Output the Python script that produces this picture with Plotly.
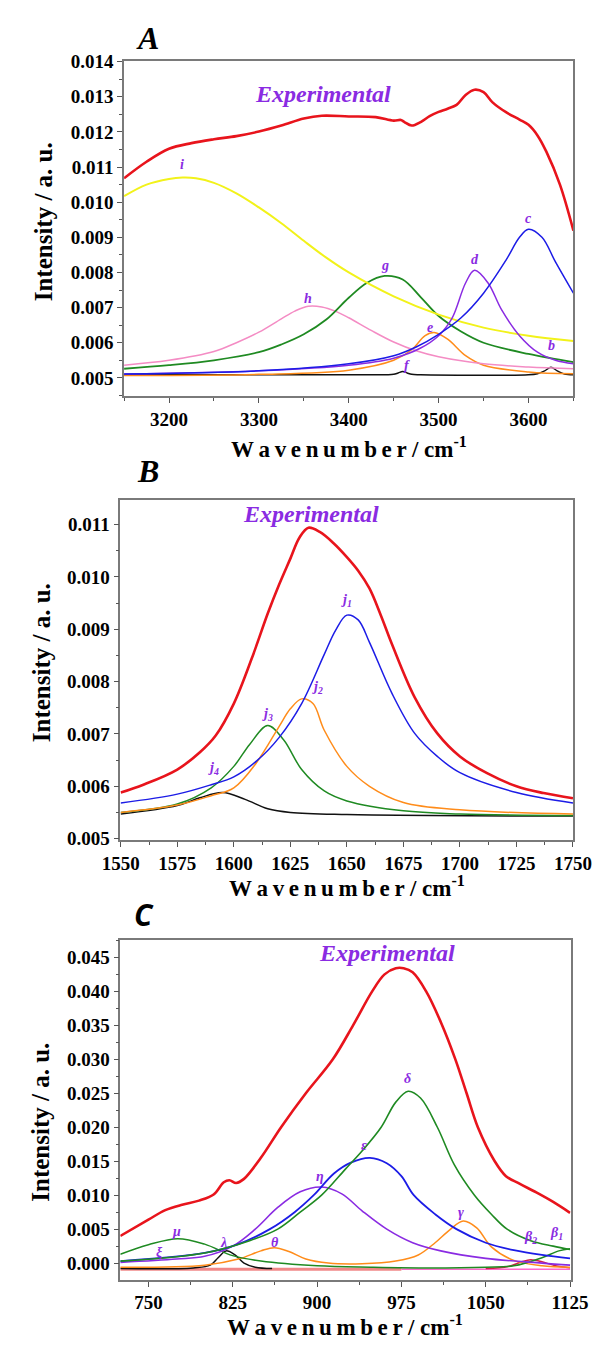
import plotly.graph_objects as go

W, H = 614, 1352

# ---------------- Panel A data (3150-3650 cm-1) ----------------
A_exp_x = [3150, 3175, 3200, 3225, 3250, 3275, 3300, 3325, 3350, 3370, 3400, 3430, 3450, 3458, 3462, 3470, 3480, 3490, 3500, 3510, 3520, 3530, 3540, 3550, 3560, 3575, 3590, 3600, 3610, 3620, 3635, 3650]
A_exp_y = [0.01068, 0.01115, 0.01152, 0.01168, 0.01179, 0.01188, 0.01201, 0.01218, 0.01238, 0.01246, 0.01244, 0.01242, 0.01232, 0.01234, 0.01228, 0.01218, 0.01228, 0.01245, 0.01257, 0.01266, 0.01277, 0.01305, 0.0132, 0.01313, 0.01284, 0.01256, 0.01235, 0.0122, 0.0119, 0.01143, 0.0105, 0.00919]
A_i_x = [3150, 3175, 3200, 3215, 3230, 3250, 3275, 3300, 3325, 3350, 3375, 3400, 3450, 3500, 3550, 3600, 3650]
A_i_y = [0.01017, 0.0105, 0.01066, 0.0107, 0.01068, 0.01055, 0.01025, 0.00985, 0.0094, 0.0089, 0.00842, 0.008, 0.00732, 0.0068, 0.00643, 0.0062, 0.00605]
A_h_x = [3150, 3200, 3250, 3275, 3300, 3325, 3340, 3355, 3370, 3385, 3400, 3425, 3450, 3475, 3500, 3550, 3600, 3650]
A_h_y = [0.00536, 0.0055, 0.00575, 0.006, 0.0063, 0.00668, 0.0069, 0.00704, 0.00702, 0.0069, 0.00671, 0.00635, 0.00602, 0.00577, 0.0056, 0.0054, 0.00531, 0.00526]
A_g_x = [3150, 3200, 3250, 3300, 3325, 3350, 3375, 3400, 3420, 3440, 3460, 3480, 3500, 3525, 3550, 3600, 3650]
A_g_y = [0.00526, 0.00536, 0.0055, 0.00573, 0.00595, 0.00624, 0.00666, 0.00728, 0.0077, 0.0079, 0.0078, 0.0073, 0.00676, 0.00632, 0.006, 0.00568, 0.00545]
A_d_x = [3150, 3300, 3400, 3450, 3480, 3500, 3515, 3530, 3540, 3555, 3570, 3590, 3610, 3630, 3650]
A_d_y = [0.00511, 0.0052, 0.00536, 0.00556, 0.00585, 0.0062, 0.0067, 0.0077, 0.00806, 0.0077, 0.00694, 0.0062, 0.00573, 0.0055, 0.0054]
A_c_x = [3150, 3300, 3400, 3450, 3475, 3500, 3525, 3550, 3575, 3590, 3600, 3615, 3630, 3650]
A_c_y = [0.00511, 0.0052, 0.0054, 0.00563, 0.00588, 0.00624, 0.00671, 0.00741, 0.00835, 0.009, 0.00923, 0.009, 0.0083, 0.00741]
A_e_x = [3150, 3300, 3400, 3450, 3470, 3485, 3495, 3510, 3530, 3550, 3600, 3650]
A_e_y = [0.00507, 0.0051, 0.00522, 0.0055, 0.0058, 0.0062, 0.00629, 0.0061, 0.00563, 0.00536, 0.00517, 0.00512]
A_fb_x = [3150, 3440, 3450, 3455, 3460, 3465, 3470, 3480, 3600, 3610, 3618, 3625, 3632, 3640, 3650]
A_fb_y = [0.00509, 0.00509, 0.0051, 0.00514, 0.00518, 0.00514, 0.0051, 0.00509, 0.00509, 0.00512, 0.0052, 0.0053, 0.0052, 0.00511, 0.00509]

# ---------------- Panel B data (1550-1750 cm-1) ----------------
B_exp_x = [1550, 1560, 1575, 1585, 1592, 1600, 1608, 1615, 1620, 1625, 1629, 1633, 1638, 1644, 1650, 1655, 1660, 1665, 1670, 1680, 1690, 1700, 1712, 1725, 1737, 1750]
B_exp_y = [0.00588, 0.00603, 0.00632, 0.00665, 0.00697, 0.00758, 0.00845, 0.0093, 0.00985, 0.01035, 0.01075, 0.01094, 0.01086, 0.01065, 0.01038, 0.01012, 0.00978, 0.00927, 0.00871, 0.0077, 0.00701, 0.00657, 0.00625, 0.006, 0.00587, 0.00577]
B_j1_x = [1550, 1575, 1590, 1600, 1610, 1620, 1630, 1640, 1645, 1650, 1655, 1660, 1670, 1680, 1690, 1700, 1725, 1750]
B_j1_y = [0.00568, 0.00585, 0.00603, 0.00618, 0.00648, 0.00693, 0.00758, 0.00852, 0.00898, 0.00927, 0.00918, 0.00875, 0.00777, 0.00701, 0.00657, 0.00626, 0.00588, 0.00568]
B_j2_x = [1550, 1575, 1590, 1600, 1610, 1620, 1625, 1630, 1635, 1640, 1650, 1660, 1675, 1700, 1750]
B_j2_y = [0.0055, 0.00564, 0.00582, 0.00597, 0.00645, 0.00714, 0.00748, 0.00767, 0.00758, 0.00707, 0.00638, 0.006, 0.00569, 0.00555, 0.00547]
B_j3_x = [1550, 1575, 1590, 1600, 1607, 1615, 1622, 1630, 1640, 1650, 1675, 1700, 1750]
B_j3_y = [0.0055, 0.00566, 0.00597, 0.00638, 0.0068, 0.00716, 0.00689, 0.00632, 0.00591, 0.00572, 0.00553, 0.00547, 0.00544]
B_j4_x = [1550, 1575, 1585, 1595, 1605, 1615, 1625, 1650, 1750]
B_j4_y = [0.00547, 0.00563, 0.00578, 0.00588, 0.00575, 0.00557, 0.0055, 0.00546, 0.00543]

# ---------------- Panel C data (725-1125 cm-1) ----------------
C_exp_x = [725, 750, 765, 780, 795, 808, 817, 822, 828, 835, 850, 868, 890, 914, 932, 949, 960, 970, 977, 985, 997, 1010, 1023, 1033, 1043, 1058, 1068, 1080, 1095, 1110, 1125]
C_exp_y = [0.0040, 0.0064, 0.0078, 0.0086, 0.0092, 0.0101, 0.0119, 0.0122, 0.0118, 0.0124, 0.0155, 0.020, 0.025, 0.030, 0.035, 0.040, 0.0425, 0.0434, 0.0434, 0.0428, 0.040, 0.0355, 0.030, 0.025, 0.020, 0.015, 0.0128, 0.0117, 0.0104, 0.009, 0.0074]
C_delta_x = [725, 800, 840, 865, 885, 904, 925, 940, 957, 970, 981, 992, 1007, 1022, 1040, 1055, 1069, 1090, 1110, 1125]
C_delta_y = [0.0003, 0.0015, 0.0033, 0.005, 0.0075, 0.010, 0.0138, 0.0165, 0.020, 0.0237, 0.0253, 0.0243, 0.020, 0.0145, 0.010, 0.0072, 0.005, 0.0033, 0.0025, 0.002]
C_eps_x = [725, 800, 830, 858, 880, 897, 915, 930, 947, 962, 975, 986, 1005, 1024, 1050, 1075, 1100, 1125]
C_eps_y = [0.0003, 0.0015, 0.0028, 0.005, 0.0075, 0.010, 0.0132, 0.0148, 0.0155, 0.0147, 0.0128, 0.010, 0.0072, 0.005, 0.003, 0.0019, 0.0012, 0.0007]
C_eta_x = [725, 775, 800, 825, 845, 865, 885, 904, 922, 940, 962, 985, 1010, 1050, 1100, 1125]
C_eta_y = [0.0001, 0.0006, 0.001, 0.0025, 0.005, 0.0082, 0.0105, 0.0112, 0.0102, 0.0077, 0.005, 0.003, 0.0018, 0.0007, 0.0, -0.0003]
C_theta_gamma_x = [725, 800, 830, 850, 862, 875, 890, 910, 940, 970, 990, 1005, 1018, 1030, 1042, 1055, 1075, 1100, 1125]
C_theta_gamma_y = [-0.0006, -0.0003, 0.0006, 0.0018, 0.00227, 0.0017, 0.0006, 0.0, -0.0001, 0.0003, 0.0012, 0.003, 0.0049, 0.0062, 0.0052, 0.0024, 0.0004, -0.0004, -0.0006]
C_mu_beta1_x = [725, 750, 776, 800, 825, 850, 900, 950, 1000, 1050, 1075, 1100, 1115, 1125]
C_mu_beta1_y = [0.0013, 0.0027, 0.0036, 0.0028, 0.0011, 0.0003, -0.0004, -0.0006, -0.0007, -0.0006, -0.0004, 0.0008, 0.0018, 0.0021]
C_lambda_x = [725, 790, 805, 812, 819, 827, 835, 845, 860]
C_lambda_y = [-0.0008, -0.0007, -0.0003, 0.0008, 0.0018, 0.0012, 0.0, -0.0006, -0.0008]
C_beta2_x = [1050, 1070, 1082, 1090, 1100, 1112, 1125]
C_beta2_y = [-0.0008, -0.0005, 0.0002, 0.0005, 0.0002, -0.0004, -0.0007]
C_base1_x = [725, 975]
C_base1_y = [-0.0009, -0.0009]
C_base2_x = [975, 1125]
C_base2_y = [-0.0009, -0.0009]

# tick labels
A_xticks = [3200, 3300, 3400, 3500, 3600]
B_xticks = [1550, 1575, 1600, 1625, 1650, 1675, 1700, 1725, 1750]
C_xticks = [750, 825, 900, 975, 1050, 1125]

RED = '#e8141c'
YEL = '#f2f21a'
PINK = '#f48cc4'
GRN = '#1f8a22'
PUR = '#8a2be2'
BLU = '#1c1ce6'
ORA = '#ff8c1a'
BLK = '#111111'
LBL = '#8a2be2'
SERIF = 'Times New Roman, Liberation Serif, serif'

fig = go.Figure()

def add(x, y, color, width, ax):
    xa, ya = ax
    fig.add_trace(go.Scatter(x=x, y=y, mode='lines', xaxis=xa, yaxis=ya,
                             line=dict(color=color, width=width, shape='spline', smoothing=1.0),
                             showlegend=False, hoverinfo='skip'))

axA = ('x', 'y'); axB = ('x2', 'y2'); axC = ('x3', 'y3')

add(A_fb_x, A_fb_y, BLK, 1.5, axA)
add(A_e_x, A_e_y, ORA, 1.5, axA)
add(A_h_x, A_h_y, PINK, 1.5, axA)
add(A_g_x, A_g_y, GRN, 1.8, axA)
add(A_i_x, A_i_y, YEL, 2, axA)
add(A_d_x, A_d_y, PUR, 1.5, axA)
add(A_c_x, A_c_y, BLU, 1.5, axA)
add(A_exp_x, A_exp_y, RED, 2.6, axA)

add(B_j4_x, B_j4_y, BLK, 1.5, axB)
add(B_j3_x, B_j3_y, GRN, 1.5, axB)
add(B_j2_x, B_j2_y, ORA, 1.5, axB)
add(B_j1_x, B_j1_y, BLU, 1.5, axB)
add(B_exp_x, B_exp_y, RED, 2.6, axB)

add(C_base1_x, C_base1_y, '#f08888', 3, axC)
add(C_base2_x, C_base2_y, '#ff66cc', 1.5, axC)
add(C_lambda_x, C_lambda_y, BLK, 1.5, axC)
add(C_beta2_x, C_beta2_y, '#d0204a', 1.5, axC)
add(C_theta_gamma_x, C_theta_gamma_y, ORA, 1.5, axC)
add(C_mu_beta1_x, C_mu_beta1_y, GRN, 1.5, axC)
add(C_eta_x, C_eta_y, PUR, 1.6, axC)
add(C_eps_x, C_eps_y, BLU, 1.8, axC)
add(C_delta_x, C_delta_y, GRN, 1.6, axC)
add(C_exp_x, C_exp_y, RED, 2.6, axC)

tickfont = dict(family=SERIF, size=19, color='black', weight='bold')
common = dict(showgrid=False, zeroline=False, showline=True, mirror=True,
              linecolor='#7a7a7a', linewidth=1.5, ticks='outside', ticklen=5,
              tickcolor='#555', tickwidth=1.2, tickfont=tickfont)

def dx(a, b):
    return [a / W, b / W]

def dy(top, bottom):
    return [1 - bottom / H, 1 - top / H]

fig.update_layout(
    width=W, height=H, margin=dict(l=0, r=0, t=0, b=0),
    paper_bgcolor='white', plot_bgcolor='white',
    xaxis=dict(domain=dx(112, 591), anchor='y', range=[3150, 3650], tickvals=A_xticks,
               minor=dict(tickvals=[3150, 3250, 3350, 3450, 3550, 3650], ticks='outside', ticklen=3, tickcolor='#555'), **common),
    yaxis=dict(domain=dy(52, 392), anchor='x', range=[0.00447, 0.01401], tick0=0.005, dtick=0.001, tickformat='.3f',
               minor=dict(dtick=0.0005, ticks='outside', ticklen=3, tickcolor='#555'), **common),
    xaxis2=dict(domain=dx(108, 591), anchor='y2', range=[1549.8, 1750.2], tickvals=B_xticks,
                minor=dict(dtick=12.5, tick0=1550, ticks='outside', ticklen=3, tickcolor='#555'), **common),
    yaxis2=dict(domain=dy(497, 842), anchor='x2', range=[0.00497, 0.01147], tick0=0.005, dtick=0.001, tickformat='.3f',
                minor=dict(dtick=0.0005, ticks='outside', ticklen=3, tickcolor='#555'), **common),
    xaxis3=dict(domain=dx(108, 588), anchor='y3', range=[725, 1125.5], tickvals=C_xticks,
                minor=dict(dtick=37.5, tick0=750, ticks='outside', ticklen=3, tickcolor='#555'), **common),
    yaxis3=dict(domain=dy(943, 1288), anchor='x3', range=[-0.00247, 0.0476], tick0=0, dtick=0.005, tickformat='.3f',
                minor=dict(dtick=0.0025, ticks='outside', ticklen=3, tickcolor='#555'), **common),
)

ann = []

def paper(text, x, y, size, angle=0, family=SERIF, color='black'):
    ann.append(dict(text=text, x=x / W, y=1 - y / H, xref='paper', yref='paper', showarrow=False,
                    font=dict(family=family, size=size, color=color), textangle=angle,
                    xanchor='center', yanchor='middle'))

def lab(text, x, y, xr, yr, size=14):
    ann.append(dict(text='<b><i>' + text + '</i></b>', x=x, y=y, xref=xr, yref=yr, showarrow=False,
                    font=dict(family=SERIF, size=size, color=LBL), xanchor='center', yanchor='middle'))

# panel letters
paper('<b><i>A</i></b>', 137, 28, 32)
paper('<b><i>B</i></b>', 138, 468, 32)
paper('<b><i>C</i></b>', 133, 917, 30, family='Open Sans, Lato, sans-serif')

# axis titles
TS = '\u2009'
XTITLE = '<b>' + TS.join('Wavenumber') + ' / cm<sup>-1</sup></b>'
paper('<b>Intensity / a. u.</b>', 27, 215, 25, angle=-90)
paper('<b>Intensity / a. u.</b>', 24, 662, 25, angle=-90)
paper('<b>Intensity / a. u.</b>', 23, 1128, 25, angle=-90)
paper(XTITLE, 352, 444, 23)
paper(XTITLE, 350, 889, 23)
paper(XTITLE, 348, 1334, 23)

# Panel A labels
lab('Experimental', 3371, 0.01307, 'x', 'y', 24)
lab('i', 3215, 0.01106, 'x', 'y')
lab('h', 3355, 0.00727, 'x', 'y')
lab('g', 3440, 0.0082, 'x', 'y')
lab('d', 3540, 0.00836, 'x', 'y')
lab('c', 3600, 0.00954, 'x', 'y')
lab('e', 3490, 0.00643, 'x', 'y')
lab('f', 3465, 0.00535, 'x', 'y')
lab('b', 3626, 0.00592, 'x', 'y')

# Panel B labels
lab('Experimental', 1634, 0.01121, 'x2', 'y2', 24)
lab('j<sub>1</sub>', 1650, 0.00955, 'x2', 'y2')
lab('j<sub>2</sub>', 1637, 0.00788, 'x2', 'y2')
lab('j<sub>3</sub>', 1615, 0.00738, 'x2', 'y2')
lab('j<sub>4</sub>', 1591, 0.00634, 'x2', 'y2')

# Panel C labels
lab('Experimental', 962, 0.0457, 'x3', 'y3', 24)
lab('δ', 980, 0.0272, 'x3', 'y3')
lab('ε', 942, 0.0173, 'x3', 'y3')
lab('η', 903, 0.0128, 'x3', 'y3')
lab('γ', 1028, 0.0074, 'x3', 'y3')
lab('θ', 863, 0.0031, 'x3', 'y3')
lab('μ', 775, 0.0046, 'x3', 'y3')
lab('λ', 817, 0.0031, 'x3', 'y3')
lab('ξ', 760, 0.0015, 'x3', 'y3')
lab('β<sub>2</sub>', 1090, 0.0037, 'x3', 'y3')
lab('β<sub>1</sub>', 1113, 0.0044, 'x3', 'y3')

fig.update_layout(annotations=ann)
fig.write_html('out.html')
